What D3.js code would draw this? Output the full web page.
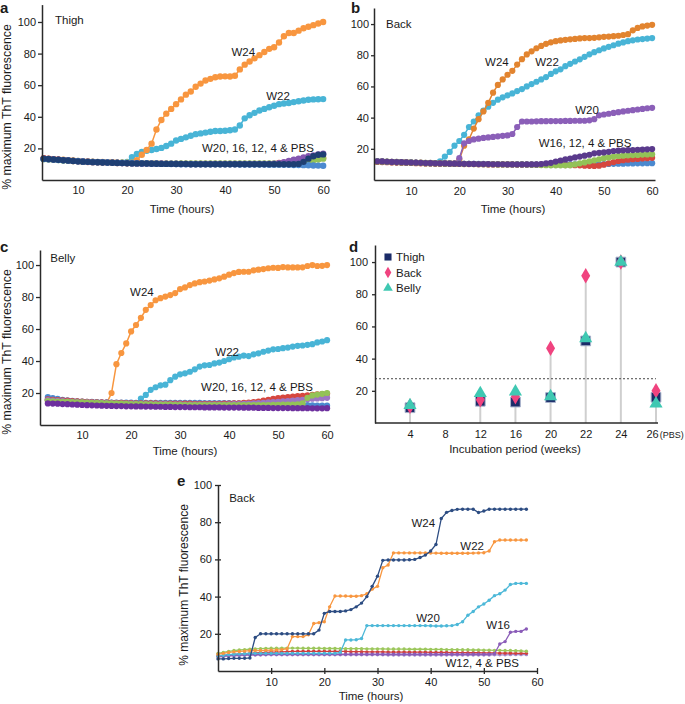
<!DOCTYPE html>
<html>
<head>
<meta charset="utf-8">
<script src="https://cdn.jsdelivr.net/npm/d3@7"></script>
<style>
  body { margin: 0; background: #fff; }
  svg { font-family: "Liberation Sans", Arial, sans-serif; }
</style>
</head>
<body>
<svg id="chart" width="685" height="704"></svg>
<script>
// sampling times (hours) – one reading per hour
const hoursABC = d3.range(3, 61)
const hoursE = d3.range(0, 59)
const timeTicks = [10, 20, 30, 40, 50, 60]
const valueTicks = [20, 40, 60, 80, 100]

// ---- panel a : Thigh ----
const thighW24 = [13.6,13.4,13.2,13,12.8,12.5,12.3,12,11.9,11.8,
  11.6,11.5,11.4,11.3,11.2,11.1,11,11,11,12.5,
  16,19,23,32,38,42,45,48,51,54,
  56,59,61,63,64,65,65.5,65.6,65.5,66,
  70,73,75,77,79,81,83,84,87,91,
  93,93,94.5,96,97,98,99,100]
const thighW22 = [13.5,13.3,13.1,12.9,12.7,12.4,12.2,12,11.8,11.7,
  11.5,11.4,11.3,11.2,11.1,11,11,11.5,14.5,16.5,
  17.8,18.5,19,19.6,20.3,21.5,23,25,26,27,
  28,29,29.5,30,30.5,31,31,31.2,31.5,32,
  34.5,39,41,42.5,44,45,46,47,48,48.4,
  48.7,49.3,49.8,50.3,50.8,51,51.1,51.2]
const thighW20 = [13.4,13.2,13,12.8,12.6,12.4,12.1,11.9,11.7,11.6,
  11.4,11.3,11.2,11.1,11,10.9,10.8,10.7,10.6,10.6,
  10.5,10.5,10.4,10.4,10.4,10.3,10.3,10.3,10.2,10.2,
  10.2,10.2,10.2,10.2,10.2,10.2,10.2,10.2,10.2,10.2,
  10.2,10.2,10.2,10.2,10.2,10.2,10.2,10.3,10.6,11.2,
  12,12.8,13.5,14.2,15,15.6,16.2,16.6]
const thighW16 = [13.5,13.3,13,12.8,12.5,12.3,12,11.8,11.6,11.5,
  11.3,11.2,11.1,11,10.9,10.8,10.7,10.6,10.5,10.5,
  10.4,10.4,10.3,10.3,10.2,10.2,10.2,10.1,10.1,10.1,
  10,10,10,10,10,10,10,10,10,10,
  10,10,10,10,10,10,10,10,10,10,
  10,10,10.2,11.5,13.5,15,16,16.2]
const thighW12 = [13.2,13,12.8,12.6,12.4,12.2,12,11.8,11.6,11.5,
  11.4,11.3,11.2,11.1,11,10.9,10.9,10.8,10.8,10.7,
  10.7,10.6,10.6,10.6,10.5,10.5,10.5,10.5,10.4,10.4,
  10.4,10.4,10.4,10.4,10.4,10.4,10.4,10.4,10.4,10.4,
  10.4,10.4,10.4,10.4,10.4,10.4,10.4,10.4,10.4,10.4,
  10.4,10.4,10.5,11,11.8,12.5,13,13.5]
const thighW4 = [13.8,13.5,13.2,12.9,12.6,12.3,12,11.8,11.6,11.4,
  11.3,11.2,11.1,11,10.9,10.8,10.7,10.6,10.6,10.5,
  10.5,10.4,10.4,10.3,10.3,10.3,10.2,10.2,10.2,10.2,
  10.1,10.1,10.1,10.1,10.1,10.1,10.1,10.1,10.1,10.1,
  10.1,10.1,10.1,10.1,10.1,10.1,10.1,10.2,10.8,11,
  11,11,11.2,11.5,12,13,13.5,14]
const thighPBS = [13.3,13.1,12.9,12.7,12.5,12.3,12.1,11.9,11.7,11.5,
  11.4,11.3,11.2,11.1,11,10.9,10.8,10.7,10.6,10.5,
  10.4,10.4,10.3,10.3,10.2,10.2,10.1,10.1,10,10,
  10,10,9.9,9.9,9.9,9.9,9.9,9.9,9.9,9.9,
  9.8,9.8,9.8,9.8,9.8,9.8,9.7,9.7,9.7,9.6,
  9.6,9.5,9.5,9.4,9.3,9.2,9.1,9]

// ---- panel b : Back ----
const backW24 = [12,11.9,11.8,11.7,11.6,11.5,11.4,11.3,11.2,11.1,
  11,11,10.9,10.9,10.8,10.8,10.7,13,22,26,
  33,39,44,49.5,56,61,64.5,67.5,70,74,
  77.5,80.5,82.5,84.5,86,87.3,88.3,89,89.5,89.9,
  90.2,90.5,90.8,91,91,91.2,91.5,91.8,92,92.2,
  92.5,93,93.5,96,97.5,98.5,99,99.5]
const backW22 = [12,11.9,11.8,11.7,11.6,11.5,11.4,11.3,11.2,11.1,
  11,11,10.9,12,15,18,22,25,29,34,
  37.5,41.5,44.5,47,49.5,51.5,53,54.3,55.5,57,
  58.3,60,61.5,63,64.5,66,68,69.7,71,73,
  74.5,76,77.4,79,80.6,82,83.2,84.4,85.4,86.4,
  87.4,88.2,89,89.6,90.1,90.4,90.7,91]
const backW20 = [11.8,11.7,11.6,11.5,11.4,11.3,11.2,11.1,11,10.9,
  10.8,10.8,10.7,10.7,10.6,10.6,10.5,14,23.5,25,
  26,26.5,27,27.3,27.6,28,28.3,28.6,29.5,34,
  37.5,37.5,37.5,37.6,37.7,37.7,37.8,37.8,37.8,37.9,
  37.9,38,38,38,38.3,39,41.5,42,42.5,43,
  43.5,44,44.4,44.8,45.2,45.6,46,46.3]
const backW16 = [12,11.9,11.7,11.6,11.5,11.4,11.3,11.2,11.1,11,
  10.9,10.8,10.7,10.6,10.6,10.5,10.5,10.4,10.4,10.3,
  10.3,10.2,10.2,10.2,10.1,10.1,10.1,10,10,10,
  10,10,10,10,10.2,10.6,11,11.8,12.5,13.2,
  13.8,14.5,15,15.6,16.2,17.1,17.4,17.7,18.1,18.6,
  18.8,19,19.1,19.2,19.4,19.5,19.7,19.8]
const backW12 = [11.8,11.7,11.6,11.5,11.4,11.3,11.2,11.1,11,10.9,
  10.8,10.7,10.6,10.6,10.5,10.5,10.4,10.4,10.3,10.3,
  10.2,10.2,10.1,10.1,10.1,10,10,10,10,10,
  10,9.9,9.8,9.7,9.6,9.5,9.4,9.4,9.4,9.4,
  9.5,10,10.7,11.3,12,12.6,13.3,14,14.5,15,
  15.4,15.6,15.8,16,16.1,16.3,16.4,16.5]
const backW4 = [11.6,11.5,11.4,11.3,11.2,11.1,11,10.9,10.8,10.7,
  10.6,10.6,10.5,10.5,10.4,10.4,10.3,10.3,10.2,10.2,
  10.2,10.1,10.1,10,10,10,10,10,10,9.9,
  9.9,9.9,9.9,9.8,9.8,9.8,9.7,9.7,9.7,9.6,
  9.6,9.5,9.4,9.2,9.1,9,9.2,9.8,10.7,11.5,
  12.2,12.7,13,13.3,13.5,13.8,14,14.2]
const backPBS = [11.9,11.8,11.6,11.5,11.4,11.3,11.2,11.1,11,10.9,
  10.8,10.8,10.7,10.7,10.6,10.6,10.5,10.5,10.4,10.4,
  10.3,10.3,10.3,10.2,10.2,10.2,10.1,10.1,10.1,10.1,
  10,10,10,10,10,10,10,10,10,10,
  10,10,10,10,10,10,10.1,10.2,10.3,10.4,
  10.5,10.5,10.6,10.6,10.7,10.7,10.8,10.8]

// ---- panel c : Belly ----
const bellyW24 = [15.5,15.2,15,14.8,14.6,14.4,14.2,14,13.9,13.8,
  13.7,13.6,13.5,20,38,45,51,58.5,62.5,67,
  72,75,78,79.3,80.3,81.2,82.5,85,86,87.5,
  88.5,89.3,89.7,90.3,91,91.7,92.7,94,95,95.7,
  95.8,95.8,96.7,97.1,97.5,98,98.3,98.2,98.7,98.5,
  98.5,98.5,98.6,99.4,100,99.4,99.5,100]
const bellyW22 = [16,15.8,15.5,15.3,15,14.8,14.6,14.4,14.2,14.1,
  14,13.9,13.8,13.8,13.7,13.7,13.6,13.6,13.6,16.5,
  18.8,22,23.6,24.8,25.2,28,30.2,31.7,32.3,33.3,
  34.8,36.5,37.3,37.5,38.5,39,40,41.1,42.2,42.7,
  43.4,43.1,44.2,44.8,45.8,46.5,47.3,47.5,48,48.4,
  49,49.5,49.7,50.1,50.5,51.6,52.2,53]
const bellyW20 = [15.5,15.3,15.1,14.9,14.7,14.5,14.3,14.2,14.1,14,
  13.9,13.8,13.7,13.6,13.5,13.4,13.3,13.3,13.2,13.2,
  13.1,13.1,13,13,13,12.9,12.9,12.9,12.8,12.8,
  12.8,12.8,12.8,12.8,12.8,12.8,12.8,12.9,13,13.1,
  13.2,13.3,13.5,13.7,13.9,14.1,14.3,14.5,14.8,15,
  15.3,15.6,15.8,16.1,16.4,16.6,16.8,17]
const bellyW16 = [16,15.8,15.6,15.4,15.2,15,14.8,14.6,14.4,14.3,
  14.2,14.1,14,13.9,13.8,13.8,13.7,13.7,13.6,13.6,
  13.5,13.5,13.5,13.4,13.4,13.4,13.3,13.3,13.3,13.3,
  13.2,13.2,13.2,13.2,13.2,13.2,13.3,13.4,13.5,13.6,
  13.8,14,14.3,14.7,15.2,15.8,16.3,16.8,17.2,17.5,
  17.8,18,18.3,18.6,18.9,19.1,19.3,19.5]
const bellyW12 = [15,14.8,14.6,14.5,14.4,14.3,14.2,14.1,14,13.9,
  13.8,13.7,13.6,13.5,13.4,13.3,13.2,13.1,13,13,
  12.9,12.9,12.8,12.8,12.7,12.7,12.6,12.6,12.5,12.5,
  12.5,12.5,12.5,12.5,12.5,12.5,12.5,12.5,12.5,12.5,
  12.5,12.5,12.5,12.5,12.5,12.5,12.6,12.6,12.7,12.7,
  12.8,12.9,13.5,17,18.5,19,19.5,20]
const bellyW4 = [17.5,16.8,16.3,15.8,15.4,15.1,14.8,14.6,14.5,14.4,
  14.3,14.2,14.1,14,14,14,14,14,13.9,13.9,
  13.9,13.9,13.9,13.9,13.8,13.8,13.8,13.8,13.8,13.8,
  13.8,13.8,13.7,13.7,13.7,13.7,13.7,13.7,13.6,13.6,
  13.6,13.5,13.5,13.4,13.3,13.2,13.1,13,12.9,12.8,
  12.7,12.6,12.5,12.4,12.3,12.2,12.2,12.1]
const bellyPBS = [13.5,13.4,13.3,13.1,13,12.8,12.7,12.5,12.4,12.3,
  12.2,12.1,12,11.9,11.8,11.8,11.7,11.7,11.6,11.6,
  11.5,11.5,11.4,11.4,11.3,11.3,11.2,11.2,11.2,11.1,
  11.1,11.1,11,11,11,11,10.9,10.9,10.9,10.9,
  10.8,10.8,10.8,10.7,10.7,10.7,10.6,10.6,10.6,10.6,
  10.5,10.5,10.5,10.5,10.4,10.4,10.4,10.5]

// ---- panel d : summary by incubation period ----
const weeks = ['4', '8', '12', '16', '20', '22', '24', '26']
const sumThigh = [9.5, null, 13.5, 13, 15.8, 51, 100, 16]
const sumBack = [10.5, null, 14.5, 16.4, 46.5, 91.5, 100, 20]
const sumBelly = [11, null, 18.5, 19.5, 16.5, 52.6, 100, 12]
const cutoff = 27.5

// ---- panel e : Back, second set ----
const back2W24 = [6.5,6.5,6.7,6.8,6.8,6.8,7,18,20,20,
  20,20,20,20,20,20,20,20,20,22,
  31,32,32,32,32.3,33,34.5,36.5,40,45.5,
  51,59.5,59.7,59.7,59.7,59.7,59.8,60,61,62.3,
  64.5,68,82,85.3,86.3,86.9,87,87,87,85.2,
  86,87,87,87,87,87,87,87,87]
const back2W22 = [9,9.5,10,10.3,10.5,10.7,10.9,11,11,11.1,
  11.2,11.3,11.5,12,18.5,18.5,18.5,19.5,25.5,26,
  26.5,34.5,40.3,40.3,40.3,40.2,40.2,40.5,41.5,44,
  45.5,55.5,57,63.5,63.5,63.5,63.5,63.5,63.5,63.5,
  63.4,63.4,63.3,63.3,63.3,63.3,63.3,63.3,63.4,63.5,
  63.6,64.5,69.5,70.4,70.4,70.4,70.4,70.4,70.4]
const back2W20 = [8,8.5,8.8,9,9.2,9.3,9.4,9.5,9.5,9.5,
  9.5,9.5,9.5,9.5,9.5,9.5,9.5,9.5,9.5,9.5,
  9.5,9.5,9.5,10,16.7,16.7,16.8,17.5,24.4,24.4,
  24.4,24.4,24.4,24.4,24.4,24.4,24.4,24.4,24.4,24.4,
  24.3,24.2,24.2,24.3,24.4,25,26.5,30,32,34.5,
  36,38,40.5,41.5,43.5,46.5,47.1,47.1,47.1]
const back2W16 = [8,8.2,8.4,8.5,8.6,8.7,8.8,8.8,8.9,8.9,
  9,9,9,9,9,9,9,9,9,9,
  9,9,9,9,9,9,9,9,9,9,
  9,9,9,9,9,9,9,9,9,9,
  9,9,9,9,9,9,9,9,9,9,
  9,9,9.3,14.5,15.8,20.8,21.3,21.3,22.6]
const back2W12 = [9.5,10,10.5,11,11.3,11.5,11.7,11.9,12,12.1,
  12.2,12.2,12.3,12.3,12.3,12.3,12.2,12.2,12.2,12.2,
  12.1,12.1,12.1,12,12,12,12,12,11.9,11.9,
  11.9,11.9,11.8,11.8,11.8,11.8,11.7,11.7,11.7,11.7,
  11.6,11.6,11.6,11.5,11.5,11.5,11.4,11.4,11.3,11.3,
  11.2,11.2,11.1,11.1,11,11,10.9,10.8,10.6]
const back2W4 = [8,8.3,8.6,8.9,9.1,9.3,9.5,9.7,9.9,10,
  10.1,10.2,10.3,10.4,10.5,10.6,10.6,10.6,10.6,10.6,
  10.6,10.5,10.5,10.5,10.5,10.4,10.4,10.4,10.3,10.3,
  10.3,10.3,10.2,10.2,10.2,10.2,10.1,10.1,10.1,10.1,
  10,10,10,10,9.9,9.9,9.9,9.8,9.8,9.8,
  9.7,9.7,9.7,9.6,9.6,9.6,9.5,9.5,9.5]
const back2PBS = [7.5,7.8,8,8.2,8.3,8.4,8.5,8.6,8.6,8.7,
  8.7,8.7,8.7,8.7,8.7,8.7,8.7,8.7,8.7,8.7,
  8.7,8.7,8.7,8.7,8.7,8.7,8.7,8.7,8.7,8.7,
  8.7,8.7,8.6,8.6,8.6,8.6,8.6,8.6,8.6,8.6,
  8.6,8.6,8.6,8.6,8.6,8.6,8.6,8.6,8.6,8.6,
  8.6,8.6,8.7,8.7,8.7,8.8,8.8,8.8,8.8]

const svg = d3.select('#chart')
const FONT = '"Liberation Sans", Arial, sans-serif'

function styleAxis(g) {
  g.attr('font-size', 11).attr('font-family', FONT)
  g.select('.domain').attr('stroke', '#2a2a2a').attr('stroke-width', 1.5)
  g.selectAll('.tick line').attr('stroke', '#2a2a2a').attr('stroke-width', 1.3)
  g.selectAll('.tick text').attr('fill', '#1a1a1a')
}

function addText(g, str, x, y, opt) {
  const o = opt || {}
  return g.append('text')
    .attr('x', x).attr('y', y)
    .attr('font-size', o.size || 11.5)
    .attr('font-weight', o.weight || 'normal')
    .attr('text-anchor', o.anchor || 'middle')
    .attr('dy', o.dy || '0.35em')
    .attr('fill', '#1a1a1a')
    .attr('transform', o.rotate ? `rotate(-90,${x},${y})` : null)
    .text(str)
}

function linePanel(cfg) {
  const g = svg.append('g')
  const x = d3.scaleLinear().domain(cfg.xDomain).range(cfg.xRange)
  const y = d3.scaleLinear().domain(cfg.yDomain).range(cfg.yRange)
  const line = d3.line().x(d => x(d[0])).y(d => y(d[1]))

  cfg.series.forEach(s => {
    if (s.values.length !== cfg.hours.length) console.error('length', s.name, s.values.length)
    const pts = s.values.map((v, i) => [cfg.hours[i], v])
    g.append('path').datum(pts)
      .attr('fill', 'none')
      .attr('stroke', s.color)
      .attr('stroke-width', cfg.lineWidth)
      .attr('d', line)
    g.append('g').selectAll('circle').data(pts).join('circle')
      .attr('cx', d => x(d[0]))
      .attr('cy', d => y(d[1]))
      .attr('r', cfg.radius)
      .attr('fill', s.color)
  })

  const xAxis = d3.axisBottom(x).tickValues(timeTicks)
    .tickSizeInner(cfg.xTick).tickSizeOuter(0).tickPadding(cfg.xPad)
  const gx = g.append('g').attr('transform', `translate(0,${y(0)})`).call(xAxis)
  styleAxis(gx)
  if (cfg.crossTicks) gx.selectAll('.tick line').attr('y1', -cfg.xTick)

  const yAxis = d3.axisLeft(y).tickValues(valueTicks)
    .tickSizeInner(cfg.yTick).tickSizeOuter(0).tickPadding(cfg.yPad)
  const gy = g.append('g').attr('transform', `translate(${x.range()[0]},0)`).call(yAxis)
  styleAxis(gy)
  if (cfg.crossTicks) gy.selectAll('.tick line').attr('x1', cfg.yTick)

  cfg.labels.forEach(l => {
    addText(g, l.text, x(l.t), y(l.v), { anchor: l.anchor || 'middle' })
  })
  return { g, x, y }
}

// panel a
linePanel({
  hours: hoursABC, xDomain: [2.65, 61.4], xRange: [42, 330],
  yDomain: [0, 111], yRange: [180, 4.6],
  lineWidth: 1.5, radius: 3.2, xTick: 0, xPad: 6, yTick: 4, yPad: 2,
  series: [
    { name: 'W22', color: '#48b4d6', values: thighW22 },
    { name: 'W24', color: '#f8963f', values: thighW24 },
    { name: 'W4', color: '#d6473f', values: thighW4 },
    { name: 'W12', color: '#93c257', values: thighW12 },
    { name: 'W20', color: '#8456b0', values: thighW20 },
    { name: 'PBS', color: '#4b89cf', values: thighPBS },
    { name: 'W16', color: '#1f3f73', values: thighW16 }
  ],
  labels: [
    { text: 'Thigh', t: 5.3, v: 101, anchor: 'start' },
    { text: 'W24', t: 43.7, v: 81 },
    { text: 'W22', t: 50.8, v: 53.2 },
    { text: 'W20, 16, 12, 4 & PBS', t: 46.7, v: 20.3 }
  ]
})

// panel b
linePanel({
  hours: hoursABC, xDomain: [2.3, 60.6], xRange: [374, 655],
  yDomain: [0, 110.3], yRange: [180, 8],
  lineWidth: 1.5, radius: 3.1, xTick: 0, xPad: 7, yTick: 3, yPad: 2,
  series: [
    { name: 'W22', color: '#48b4d6', values: backW22 },
    { name: 'W24', color: '#e2842f', values: backW24 },
    { name: 'W20', color: '#8b5fb8', values: backW20 },
    { name: 'PBS', color: '#4b89cf', values: backPBS },
    { name: 'W4', color: '#d6473f', values: backW4 },
    { name: 'W12', color: '#93c257', values: backW12 },
    { name: 'W16', color: '#5a3a8c', values: backW16 }
  ],
  labels: [
    { text: 'Back', t: 4.8, v: 100, anchor: 'start' },
    { text: 'W24', t: 27.8, v: 75.6 },
    { text: 'W22', t: 38.2, v: 75.6 },
    { text: 'W20', t: 46.5, v: 44.9 },
    { text: 'W16, 12, 4 & PBS', t: 46.1, v: 23.7 }
  ]
})

// panel c
linePanel({
  hours: hoursABC, xDomain: [1.4, 60.6], xRange: [40, 330],
  yDomain: [0, 109.4], yRange: [425, 250],
  lineWidth: 1.5, radius: 3.1, xTick: 0, xPad: 6, yTick: 4, yPad: 2,
  series: [
    { name: 'W24', color: '#f8963f', values: bellyW24 },
    { name: 'W22', color: '#48b4d6', values: bellyW22 },
    { name: 'W4', color: '#4b89cf', values: bellyW4 },
    { name: 'W16', color: '#d6473f', values: bellyW16 },
    { name: 'W20', color: '#9c76c4', values: bellyW20 },
    { name: 'W12', color: '#93c257', values: bellyW12 },
    { name: 'PBS', color: '#6d2f9e', values: bellyPBS }
  ],
  labels: [
    { text: 'Belly', t: 3.5, v: 104.4, anchor: 'start' },
    { text: 'W24', t: 22.2, v: 83.1 },
    { text: 'W22', t: 39.6, v: 45.6 },
    { text: 'W20, 16, 12, 4 & PBS', t: 45.7, v: 23.8 }
  ]
})

// panel e
linePanel({
  hours: hoursE, xDomain: [0, 60], xRange: [218, 537],
  yDomain: [0, 100], yRange: [671, 485],
  lineWidth: 1.3, radius: 1.7, xTick: 3, xPad: 4, yTick: 3, yPad: 3, crossTicks: true,
  series: [
    { name: 'PBS', color: '#a38bcb', values: back2PBS },
    { name: 'W4', color: '#d13d3d', values: back2W4 },
    { name: 'W12', color: '#9cc75c', values: back2W12 },
    { name: 'W16', color: '#8a5cb8', values: back2W16 },
    { name: 'W20', color: '#4cb8d8', values: back2W20 },
    { name: 'W22', color: '#f8963f', values: back2W22 },
    { name: 'W24', color: '#2c4c82', values: back2W24 }
  ],
  labels: [
    { text: 'Back', t: 2.1, v: 93, anchor: 'start' },
    { text: 'W24', t: 38.6, v: 79.6 },
    { text: 'W22', t: 47.8, v: 67.2 },
    { text: 'W20', t: 39.5, v: 28.5 },
    { text: 'W16', t: 52.7, v: 24.7 },
    { text: 'W12, 4 & PBS', t: 49.7, v: 4.3 }
  ]
})

// panel d : lollipop summary
const gd = svg.append('g')
const xd = d3.scalePoint().domain(weeks).range([410, 656])
const yd = d3.scaleLinear().domain([0, 110.6]).range([423, 245])
const rows = weeks.map((w, i) => ({ w, thigh: sumThigh[i], back: sumBack[i], belly: sumBelly[i] }))
const withData = rows.filter(r => r.thigh !== null)
const lastWeek = weeks[weeks.length - 1]

gd.selectAll('.stem').data(withData).join('line')
  .attr('x1', d => xd(d.w)).attr('x2', d => xd(d.w))
  .attr('y1', yd(0)).attr('y2', d => yd(Math.max(d.thigh, d.back, d.belly)))
  .attr('stroke', '#cfcfcf').attr('stroke-width', 2)

gd.append('line')
  .attr('x1', 375).attr('x2', xd(lastWeek))
  .attr('y1', yd(cutoff)).attr('y2', yd(cutoff))
  .attr('stroke', '#444').attr('stroke-width', 1).attr('stroke-dasharray', '2,2')

const sym = {
  thigh: { type: d3.symbolSquare, size: 95, color: '#1b2b68', stroke: '#a9b3cc' },
  back: { type: d3.symbolDiamond, size: 70, color: '#f0437f', stroke: 'none' },
  belly: { type: d3.symbolTriangle, size: 75, color: '#3fc8b2', stroke: 'none' }
}
;['thigh', 'back', 'belly'].forEach(k => {
  const s = sym[k]
  gd.append('g').selectAll('path').data(withData).join('path')
    .attr('d', d3.symbol().type(s.type).size(s.size))
    .attr('transform', d => `translate(${xd(d.w)},${yd(d[k])})`)
    .attr('fill', s.color).attr('stroke', s.stroke).attr('stroke-width', 1)
})

const gdx = gd.append('g').attr('transform', `translate(0,${yd(0)})`)
  .call(d3.axisBottom(xd).tickSize(0).tickPadding(7))
styleAxis(gdx)
gdx.select('.domain').attr('d', `M375,0H${xd(lastWeek) + 2}`)
// last category is the PBS control
const pbsTick = gdx.selectAll('.tick text').filter(d => d === lastWeek)
  .attr('text-anchor', 'start').attr('x', -10)
pbsTick.append('tspan').attr('font-size', 9).attr('dx', 1).text('(PBS)')

const gdy = gd.append('g').attr('transform', 'translate(375,0)')
  .call(d3.axisLeft(yd).tickValues(valueTicks).tickSizeInner(3).tickSizeOuter(0).tickPadding(4))
styleAxis(gdy)

// legend
const legend = [
  { key: 'thigh', text: 'Thigh', size: 50 },
  { key: 'back', text: 'Back', size: 38 },
  { key: 'belly', text: 'Belly', size: 40 }
]
legend.forEach((l, i) => {
  const s = sym[l.key]
  const ly = 257 + i * 15.5
  gd.append('path').attr('d', d3.symbol().type(s.type).size(l.size))
    .attr('transform', `translate(388,${ly})`).attr('fill', s.color)
  addText(gd, l.text, 396, ly, { anchor: 'start', size: 11.5 })
})

// panel letters and axis titles
addText(svg, 'a', 0, 8, { anchor: 'start', size: 15, weight: 'bold' })
addText(svg, 'b', 351, 8, { anchor: 'start', size: 15, weight: 'bold' })
addText(svg, 'c', 0, 247, { anchor: 'start', size: 15, weight: 'bold' })
addText(svg, 'd', 349, 247, { anchor: 'start', size: 15, weight: 'bold' })
addText(svg, 'e', 177, 481, { anchor: 'start', size: 15, weight: 'bold' })

addText(svg, '% maximum ThT fluorescence', 7, 107, { rotate: true, size: 12.3 })
addText(svg, '% maximum ThT fluorescence', 7, 352, { rotate: true, size: 12.3 })
addText(svg, '% maximum ThT fluorescence', 184, 585, { rotate: true, size: 12 })

addText(svg, 'Time (hours)', 182, 209, { size: 11.5 })
addText(svg, 'Time (hours)', 513, 209, { size: 11.5 })
addText(svg, 'Time (hours)', 185, 451, { size: 11.5 })
addText(svg, 'Incubation period (weeks)', 515, 449, { size: 11.5 })
addText(svg, 'Time (hours)', 371, 696, { size: 11.5 })
</script>
</body>
</html>
